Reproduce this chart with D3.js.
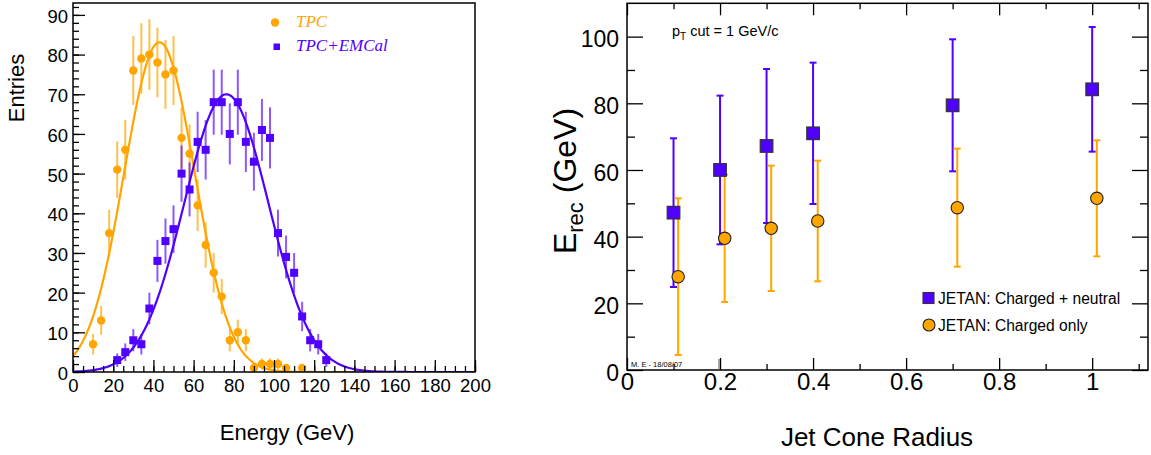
<!DOCTYPE html>
<html><head><meta charset="utf-8">
<script src="https://cdn.jsdelivr.net/npm/d3@7"></script>
<style>
body{margin:0;background:#fff}
text{font-family:"Liberation Sans",Arial,Helvetica,sans-serif}
</style>
</head><body>
<svg id="c" width="1151" height="455"></svg>
<script>
// ---------- Left panel data (energy spectra) ----------
const tpcEnergy = [10,14,18,22,26,30,34,38,42,46,50,54,58,62,66,70,74,78,82,86,90,94,98,102,106,114];
const tpcEntries = [7,13,35,51,56,76,79,80,78,75,76,59,55,42,32,25,19,8,10,8,1,2,2,2,1,1];
const tpcErrors = [2.6,3.6,5.9,7.1,7.5,8.7,8.9,8.9,8.8,8.7,8.7,7.7,7.4,6.5,5.7,5.0,4.4,2.8,3.2,2.8,1.0,1.4,1.4,1.4,1.0,1.0];

const emcEnergy = [22,26,30,34,38,42,46,50,54,58,62,66,70,74,78,82,86,90,94,98,102,106,110,114,118,122,126];
const emcEntries = [3,5,8,7,16,28,33,36,50,46,58,56,68,68,60,68,58,53,61,59,35,29,25,14,8,7,3];
const emcErrors = [1.7,2.2,2.8,2.6,4.0,5.3,5.7,6.0,7.1,6.8,7.6,7.5,8.2,8.2,7.7,8.2,7.6,7.3,7.8,7.7,5.9,5.4,5.0,3.7,2.8,2.6,1.7];

// Gaussian fit parameters [amplitude, mean, sigma, rangeMax]
const tpcFit = [83.1, 43.0, 17.5, 150];
const emcFit = [70.0, 76.3, 21.0, 200];

const leftXTicks = [0,20,40,60,80,100,120,140,160,180,200];
const leftYTicks = [0,10,20,30,40,50,60,70,80,90];

// ---------- Right panel data (E_rec vs cone radius) ----------
const radiusFull = [0.1,0.2,0.3,0.4,0.7,1.0];
const erecFull = [47.2,60.0,67.2,71.0,79.4,84.2];
const erecFullErr = [22.3,22.3,23.1,21.2,19.8,18.7];

const radiusCharged = [0.11,0.21,0.31,0.41,0.71,1.01];
const erecCharged = [28.0,39.5,42.5,44.7,48.7,51.5];
const erecChargedErr = [23.5,19.1,18.8,18.1,17.7,17.4];

const rightXTicks = [0,0.2,0.4,0.6,0.8,1];
const rightYTicks = [0,20,40,60,80,100];

// ---------- styling ----------
const ORANGE = "#ffa500", BLUE = "#5000ff";
const svg = d3.select("#c");

function styleAxis(g, fs){
  g.select(".domain").remove();
  g.selectAll("line").attr("stroke","#000").attr("stroke-width",1.3);
  g.selectAll("text").attr("fill","#000").style("font-size",fs+"px")
   .style("font-family","'Liberation Sans',Arial,sans-serif");
}

// =============== LEFT PANEL ===============
{
  const x = d3.scaleLinear([0,200],[73,475]);
  const y = d3.scaleLinear([0,93],[372,3]);
  const g = svg.append("g");

  g.append("clipPath").attr("id","clipL").append("rect")
    .attr("x",73).attr("y",3).attr("width",402).attr("height",369);

  const line = d3.line().x(d=>x(d[0])).y(d=>y(d[1]));
  function gauss(p){ return d3.range(0,p[3]+0.01,0.5).map(e=>[e,p[0]*Math.exp(-((e-p[1])**2)/(2*p[2]*p[2]))]); }

  const eb = g.append("g").attr("clip-path","url(#clipL)");
  eb.selectAll(".et").data(tpcEnergy).join("line")
    .attr("x1",d=>x(d)).attr("x2",d=>x(d))
    .attr("y1",(d,i)=>y(tpcEntries[i]-tpcErrors[i])).attr("y2",(d,i)=>y(tpcEntries[i]+tpcErrors[i]))
    .attr("stroke",ORANGE).attr("stroke-width",2).attr("stroke-opacity",0.7);
  eb.selectAll(".ee").data(emcEnergy).join("line")
    .attr("x1",d=>x(d)).attr("x2",d=>x(d))
    .attr("y1",(d,i)=>y(emcEntries[i]-emcErrors[i])).attr("y2",(d,i)=>y(emcEntries[i]+emcErrors[i]))
    .attr("stroke",BLUE).attr("stroke-width",2).attr("stroke-opacity",0.65);

  const fits = g.append("g").attr("clip-path","url(#clipL)");
  fits.append("path").datum(gauss(tpcFit)).attr("d",line).attr("fill","none").attr("stroke",ORANGE).attr("stroke-width",2.2);
  fits.append("path").datum(gauss(emcFit)).attr("d",line).attr("fill","none").attr("stroke",BLUE).attr("stroke-width",2.2);

  g.selectAll(".mt").data(tpcEnergy).join("circle")
    .attr("cx",d=>x(d)).attr("cy",(d,i)=>y(tpcEntries[i])).attr("r",4.2).attr("fill",ORANGE);
  g.selectAll(".me").data(emcEnergy).join("rect")
    .attr("x",d=>x(d)-4).attr("y",(d,i)=>y(emcEntries[i])-4).attr("width",8).attr("height",8).attr("fill",BLUE);

  const xa = g.append("g").attr("transform","translate(0,372)")
    .call(d3.axisBottom(x).tickValues(d3.range(0,201,5)).tickSize(-6).tickFormat(""));
  styleAxis(xa,18);
  const xM = g.append("g").attr("transform","translate(0,372)")
    .call(d3.axisBottom(x).tickValues(leftXTicks).tickSize(-12).tickPadding(7).tickFormat(d3.format("d")));
  styleAxis(xM,18.5);
  const ya = g.append("g").attr("transform","translate(73,0)")
    .call(d3.axisLeft(y).tickValues(d3.range(0,93,2)).tickSize(-6).tickFormat(""));
  styleAxis(ya,18);
  const yM = g.append("g").attr("transform","translate(73,0)")
    .call(d3.axisLeft(y).tickValues(leftYTicks).tickSize(-12).tickPadding(5).tickFormat(d3.format("d")));
  styleAxis(yM,18.5);
  yM.selectAll("text").attr("dy","0.4em");

  g.append("rect").attr("x",73).attr("y",3).attr("width",402).attr("height",369)
    .attr("fill","none").attr("stroke","#000").attr("stroke-width",1.5);

  g.append("text").attr("x",287).attr("y",440).attr("text-anchor","middle")
    .style("font-size","22px").text("Energy (GeV)");
  g.append("text").attr("transform","translate(24,88) rotate(-90)").attr("text-anchor","middle")
    .style("font-size","22px").text("Entries");

  g.append("circle").attr("cx",275).attr("cy",22.5).attr("r",4.2).attr("fill",ORANGE);
  g.append("rect").attr("x",273.5).attr("y",43.5).attr("width",6.5).attr("height",6.5).attr("fill",BLUE);
  g.append("text").attr("x",296).attr("y",27).attr("fill",ORANGE)
    .style("font-family","'Liberation Serif','Times New Roman',serif").style("font-style","italic").style("font-size","17px").text("TPC");
  g.append("text").attr("x",296).attr("y",51).attr("fill",BLUE)
    .style("font-family","'Liberation Serif','Times New Roman',serif").style("font-style","italic").style("font-size","17px").text("TPC+EMCal");
}

// =============== RIGHT PANEL ===============
{
  const x = d3.scaleLinear([0,1.12],[627,1148]);
  const y = d3.scaleLinear([0,110],[370,3.3]);
  const g = svg.append("g");

  const xb = g.append("g").attr("transform","translate(0,370)")
    .call(d3.axisBottom(x).tickValues(d3.range(0.1,1.15,0.2)).tickSize(-6).tickFormat(""));
  styleAxis(xb,24);
  const xbM = g.append("g").attr("transform","translate(0,370)")
    .call(d3.axisBottom(x).tickValues(rightXTicks).tickSize(-12).tickPadding(3).tickFormat(d=>String(+d.toFixed(1))));
  styleAxis(xbM,24);
  const xt = g.append("g").attr("transform","translate(0,3.3)")
    .call(d3.axisTop(x).tickValues(d3.range(0.1,1.15,0.2)).tickSize(-6).tickFormat(""));
  styleAxis(xt,24);
  const xtM = g.append("g").attr("transform","translate(0,3.3)")
    .call(d3.axisTop(x).tickValues(rightXTicks).tickSize(-12).tickFormat(""));
  styleAxis(xtM,24);
  const yl = g.append("g").attr("transform","translate(627,0)")
    .call(d3.axisLeft(y).tickValues(d3.range(10,110,20)).tickSize(-8).tickFormat(""));
  styleAxis(yl,23);
  const ylM = g.append("g").attr("transform","translate(627,0)")
    .call(d3.axisLeft(y).tickValues(rightYTicks).tickSize(-16).tickPadding(8).tickFormat(d3.format("d")));
  styleAxis(ylM,23);
  ylM.selectAll("text").attr("dy","0.45em");
  const yr = g.append("g").attr("transform","translate(1148,0)")
    .call(d3.axisRight(y).tickValues(d3.range(10,110,20)).tickSize(-8).tickFormat(""));
  styleAxis(yr,23);
  const yrM = g.append("g").attr("transform","translate(1148,0)")
    .call(d3.axisRight(y).tickValues(rightYTicks).tickSize(-16).tickFormat(""));
  styleAxis(yrM,23);

  g.append("rect").attr("x",627).attr("y",3.3).attr("width",521).attr("height",366.7)
    .attr("fill","none").attr("stroke","#000").attr("stroke-width",1.5);

  function errBars(xs, ys, es, color){
    const e = g.append("g").attr("stroke",color).attr("stroke-width",2);
    xs.forEach((r,i)=>{
      const cx = x(r), y1 = y(ys[i]-es[i]), y2 = y(ys[i]+es[i]);
      e.append("line").attr("x1",cx).attr("x2",cx).attr("y1",y1).attr("y2",y2);
      e.append("line").attr("x1",cx-3.5).attr("x2",cx+3.5).attr("y1",y1).attr("y2",y1);
      e.append("line").attr("x1",cx-3.5).attr("x2",cx+3.5).attr("y1",y2).attr("y2",y2);
    });
  }
  errBars(radiusFull, erecFull, erecFullErr, BLUE);
  errBars(radiusCharged, erecCharged, erecChargedErr, ORANGE);

  g.selectAll(".sq").data(radiusFull).join("rect")
    .attr("x",d=>x(d)-6.3).attr("y",(d,i)=>y(erecFull[i])-6.3).attr("width",12.6).attr("height",12.6)
    .attr("fill",BLUE).attr("stroke","#333").attr("stroke-width",1.2);
  g.selectAll(".ci").data(radiusCharged).join("circle")
    .attr("cx",d=>x(d)).attr("cy",(d,i)=>y(erecCharged[i])).attr("r",6.2)
    .attr("fill",ORANGE).attr("stroke","#222").attr("stroke-width",1.1);

  const pt = g.append("text").attr("x",672).attr("y",36).style("font-size","14.5px");
  pt.append("tspan").text("p");
  pt.append("tspan").attr("dy",4).style("font-size","10px").text("T");
  pt.append("tspan").attr("dy",-4).text(" cut = 1 GeV/c");

  g.append("text").attr("x",631).attr("y",367).style("font-size","7.5px").text("M. E - 18/08/07");
  g.append("line").attr("x1",719).attr("x2",719).attr("y1",359).attr("y2",370).attr("stroke","#555").attr("stroke-width",1);

  g.append("rect").attr("x",923).attr("y",292.5).attr("width",11).attr("height",11)
    .attr("fill",BLUE).attr("stroke","#333").attr("stroke-width",1.1);
  g.append("text").attr("x",938).attr("y",304).style("font-size","15.6px").text("JETAN: Charged + neutral");
  g.append("circle").attr("cx",929).attr("cy",325).attr("r",6).attr("fill",ORANGE).attr("stroke","#222").attr("stroke-width",1.1);
  g.append("text").attr("x",938).attr("y",330.5).style("font-size","15.6px").text("JETAN: Charged only");

  g.append("text").attr("x",877).attr("y",446).attr("text-anchor","middle")
    .style("font-size","26px").text("Jet Cone Radius");
  const yt = g.append("text").attr("transform","translate(576,181) rotate(-90)").attr("text-anchor","middle")
    .style("font-size","32px");
  yt.append("tspan").text("E");
  yt.append("tspan").attr("dy",7).style("font-size","22px").text("rec");
  yt.append("tspan").attr("dy",-7).text(" (GeV)");
}
</script>
</body></html>
